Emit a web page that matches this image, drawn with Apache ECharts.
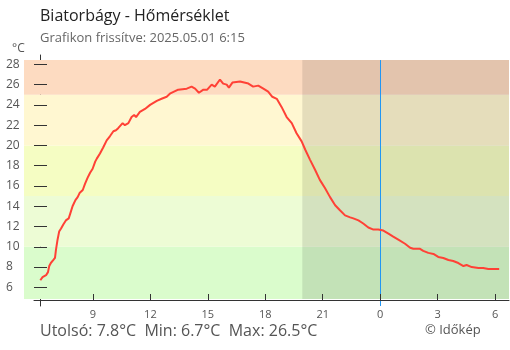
<!DOCTYPE html>
<html>
<head>
<meta charset="utf-8">
<script src="https://cdn.jsdelivr.net/npm/echarts@6/dist/echarts.min.js"></script>
<style>
html,body{margin:0;padding:0;background:#fff;}
#c{width:510px;height:350px;}
</style>
</head>
<body>
<div id="c"></div>
<script>
// ---- data ----
const times = ["06:15","06:22","06:33","06:39","06:43","06:48","06:56","07:01","07:04","07:09","07:14","07:20","07:27","07:35","07:44","07:49","07:56","08:05","08:12","08:18","08:28","08:35","08:43","08:51","08:59","09:07","09:12","09:22","09:32","09:43","09:53","10:04","10:12","10:19","10:33","10:40","10:51","11:01","11:09","11:15","11:27","11:43","11:59","12:20","12:35","12:51","13:01","13:27","13:54","14:09","14:20","14:32","14:46","14:58","15:12","15:22","15:38","15:48","15:59","16:06","16:17","16:41","17:07","17:22","17:38","17:54","18:09","18:22","18:36","18:51","19:07","19:23","19:38","19:54","20:05","20:20","20:36","20:51","21:07","21:23","21:39","21:54","22:10","22:26","22:36","22:52","23:07","23:23","23:39","23:54","00:10","00:26","00:41","00:57","01:02","01:18","01:34","01:44","02:05","02:15","02:31","02:47","03:02","03:18","03:34","03:49","04:05","04:21","04:31","04:47","05:08","05:23","05:39","06:00","06:13"];
const temps = [6.7,7.0,7.2,7.5,8.1,8.4,8.7,8.9,9.7,10.7,11.5,11.8,12.2,12.6,12.8,13.3,14.0,14.6,14.9,15.3,15.6,16.2,16.8,17.3,17.7,18.4,18.7,19.2,19.8,20.5,20.9,21.4,21.5,21.7,22.2,22.0,22.2,22.8,23.0,22.8,23.3,23.6,24.0,24.4,24.6,24.8,25.1,25.5,25.6,25.8,25.6,25.2,25.5,25.5,26.0,25.8,26.5,26.1,26.0,25.7,26.2,26.3,26.1,25.8,25.9,25.6,25.3,24.8,24.6,23.8,22.8,22.2,21.2,20.4,19.6,18.6,17.6,16.6,15.8,14.9,14.1,13.6,13.1,12.9,12.8,12.6,12.3,11.9,11.7,11.7,11.6,11.3,11.0,10.7,10.6,10.3,9.9,9.8,9.8,9.6,9.4,9.3,9.0,8.9,8.7,8.6,8.4,8.1,8.2,8.0,7.9,7.9,7.8,7.8,7.8];
const hourTicks = [9,12,15,18,21,24,27,30];
const tempTicks = [6,8,10,12,14,16,18,20,22,24,26,28];
const bandEdges = [10,15,20,25];
const bandColors = ['#dafccc','#edfcd5','#f5fdc3','#fff7d1','#fddbc1'];
const nightStart = "19:56";
const midnightHour = 24;
const titleText = 'Biatorbágy - Hőmérséklet';
const subText = 'Grafikon frissítve: 2025.05.01 6:15';
const statsText = 'Utolsó: 7.8°C  Min: 6.7°C  Max: 26.5°C';
const copyText = '© Időkép';

// ---- helpers ----
function toHours(list){
  let day = 0, prev = -1;
  return list.map(s => {
    const p = s.split(':').map(Number);
    let v = p[0] + p[1]/60 + day;
    if (v < prev) { day += 24; v += 24; }
    prev = v;
    return v;
  });
}
const hours = toHours(times);
const nightH = (function(){const p=nightStart.split(':').map(Number);return p[0]+p[1]/60;})();
const lineData = hours.map((h,i)=>[h,temps[i]]);

const xMin = 5.92, xMax = 30.73;          // x extent of main grid (hours)
const yMinB = 4.16, yMaxB = 28.92;        // y extent of main grid
const yBandMin = 4.85, yBandMax = 28.42;  // y extent of coloured plot area

const bandBounds = [yBandMin].concat(bandEdges, [yBandMax]);
const bandAreas = bandColors.map((c,i)=>[{yAxis:bandBounds[i], itemStyle:{color:c}},{yAxis:bandBounds[i+1]}]);

const FF = "'Open Sans', sans-serif";
const chart = echarts.init(document.getElementById('c'), null, {renderer:'canvas'});
chart.setOption({
  animation:false,
  backgroundColor:'#fff',
  textStyle:{fontFamily:FF},
  title:[
    {text:titleText, left:40, top:8, padding:0, textStyle:{fontSize:16, fontWeight:'normal', color:'#222', fontFamily:FF}},
    {text:subText, left:40, top:32, padding:0, textStyle:{fontSize:13, fontWeight:'normal', color:'#666', fontFamily:FF}},
    {text:'°C', left:12, top:43, padding:0, textStyle:{fontSize:12, fontWeight:'normal', color:'#555', fontFamily:FF}},
    {text:statsText, left:40, top:323, padding:0, textStyle:{fontSize:16, fontWeight:'normal', color:'#555', fontFamily:FF}},
    {text:copyText, left:425, top:324, padding:0, textStyle:{fontSize:13, fontWeight:'normal', color:'#555', fontFamily:FF}}
  ],
  grid:[
    {left:24, right:1, top:60, bottom:51, containLabel:false},
    {left:34, right:1, top:55, bottom:44, containLabel:false}
  ],
  xAxis:[
    {gridIndex:0, type:'value', min:0, max:1, show:false},
    {gridIndex:1, type:'value', min:xMin, max:xMax, position:'bottom', offset:-6, z:5,
     axisLine:{show:true, onZero:false, lineStyle:{color:'#333', width:1}},
     axisTick:{show:true, inside:true, length:6, customValues:hourTicks, lineStyle:{color:'#333'}},
     axisLabel:{show:true, customValues:hourTicks, formatter:v=>String(Math.round(v)%24), fontSize:11, color:'#555', margin:9, fontFamily:FF},
     splitLine:{show:false}}
  ],
  yAxis:[
    {gridIndex:0, type:'value', min:yBandMin, max:yBandMax, show:false},
    {gridIndex:1, type:'value', min:yMinB, max:yMaxB, position:'left', offset:-6, z:0,
     axisLine:{show:true, onZero:false, lineStyle:{color:'#333', width:1}},
     axisTick:{show:false},
     axisLabel:{show:true, customValues:tempTicks, align:'left', margin:34, fontSize:12, color:'#555', fontFamily:FF},
     splitLine:{show:false}},
    {gridIndex:1, type:'value', min:yMinB, max:yMaxB, position:'left', offset:-6, z:5,
     axisLine:{show:false}, axisLabel:{show:false}, splitLine:{show:false},
     axisTick:{show:true, inside:true, length:7, customValues:tempTicks, lineStyle:{color:'#333'}}},
    {gridIndex:1, type:'value', min:yMinB, max:yMaxB, position:'left', offset:-6, z:5,
     axisLine:{show:false}, axisLabel:{show:false}, splitLine:{show:false},
     axisTick:{show:true, inside:false, length:6, customValues:tempTicks, lineStyle:{color:'#333'}}}
  ],
  series:[
    {type:'line', xAxisIndex:0, yAxisIndex:0, z:1, silent:true, showSymbol:false,
     data:[[0.5, 15]], lineStyle:{opacity:0},
     markArea:{silent:true, data:bandAreas}},
    {type:'line', xAxisIndex:1, yAxisIndex:1, z:3, silent:true, showSymbol:false,
     data:[[nightH, 15]], lineStyle:{opacity:0},
     markArea:{silent:true, itemStyle:{color:'rgba(0,0,0,0.1)'}, data:[[{xAxis:nightH, yAxis:yBandMin},{xAxis:xMax, yAxis:yBandMax}]]}},
    {type:'line', xAxisIndex:1, yAxisIndex:1, z:10, silent:true, showSymbol:false,
     data:lineData, lineStyle:{color:'#ff4136', width:2}, itemStyle:{color:'#ff4136'},
     markLine:{silent:true, symbol:'none', label:{show:false},
       lineStyle:{color:'#2196f3', width:1, type:'solid'},
       data:[[{coord:[midnightHour, yMinB]},{coord:[midnightHour, yBandMax]}]]}}
  ]
});
</script>
</body>
</html>
